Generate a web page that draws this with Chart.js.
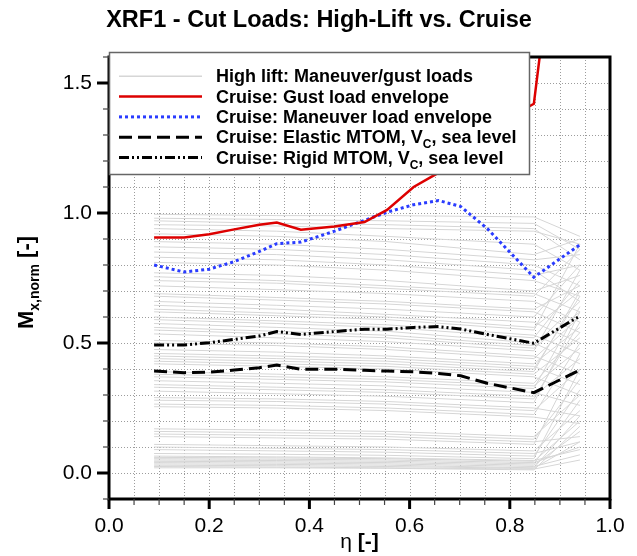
<!DOCTYPE html>
<html lang="en">
<head>
<meta charset="UTF-8">
<title>XRF1 - Cut Loads: High-Lift vs. Cruise</title>
<script src="https://cdn.jsdelivr.net/npm/chart.js@4.4.1/dist/chart.umd.min.js"></script>
<style>
  html, body { margin: 0; padding: 0; background: #ffffff; }
  #cutLoadsChart { display: block; }
</style>
</head>
<body>
<canvas id="cutLoadsChart" width="637" height="556"></canvas>
<script>
// ======================== 1. Data ========================
// span stations of the cruise load cases
const cruiseEta = [0.09, 0.15, 0.2, 0.25, 0.3, 0.335, 0.383, 0.45, 0.51, 0.555, 0.608, 0.658, 0.702, 0.755, 0.848, 0.94];
const gustEnvelope = [0.906, 0.906, 0.918, 0.937, 0.955, 0.963, 0.936, 0.948, 0.965, 1.012, 1.10, 1.155, 1.24, 1.32, 1.42, 2.85];
const maneuverEnvelope = [0.80, 0.773, 0.784, 0.813, 0.852, 0.882, 0.888, 0.93, 0.972, 1.003, 1.032, 1.048, 1.025, 0.94, 0.753, 0.878];
const elasticMtom = [0.392, 0.386, 0.388, 0.396, 0.405, 0.415, 0.399, 0.399, 0.395, 0.392, 0.389, 0.383, 0.374, 0.345, 0.309, 0.396];
const rigidMtom = [0.492, 0.492, 0.501, 0.514, 0.527, 0.544, 0.533, 0.544, 0.553, 0.553, 0.56, 0.563, 0.554, 0.533, 0.499, 0.604];

// high lift maneuver / gust cases (one row per load case)
const highLiftEta = [0.09, 0.335, 0.555, 0.848, 0.94];
const highLiftLoads = [
  [0.995, 0.99, 0.99, 0.985, 0.91],
  [0.98, 0.975, 0.97, 0.96, 0.86],
  [0.97, 0.96, 0.955, 0.94, 0.82],
  [0.955, 0.95, 0.94, 0.93, 0.88],
  [0.94, 0.93, 0.91, 0.88, 0.78],
  [0.92, 0.91, 0.89, 0.84, 0.90],
  [0.89, 0.88, 0.86, 0.82, 0.84],
  [0.87, 0.86, 0.84, 0.80, 0.72],
  [0.85, 0.84, 0.82, 0.78, 0.66],
  [0.83, 0.82, 0.80, 0.76, 0.80],
  [0.81, 0.80, 0.78, 0.74, 0.68],
  [0.77, 0.76, 0.74, 0.70, 0.76],
  [0.755, 0.74, 0.72, 0.69, 0.62],
  [0.74, 0.73, 0.71, 0.68, 0.86],
  [0.72, 0.705, 0.69, 0.66, 0.58],
  [0.69, 0.675, 0.66, 0.63, 0.72],
  [0.68, 0.665, 0.65, 0.62, 0.54],
  [0.66, 0.645, 0.63, 0.60, 0.80],
  [0.645, 0.63, 0.61, 0.58, 0.50],
  [0.63, 0.615, 0.60, 0.56, 0.70],
  [0.62, 0.605, 0.59, 0.55, 0.88],
  [0.60, 0.585, 0.57, 0.53, 0.46],
  [0.59, 0.575, 0.56, 0.52, 0.74],
  [0.575, 0.56, 0.545, 0.50, 0.42],
  [0.56, 0.545, 0.53, 0.49, 0.66],
  [0.55, 0.535, 0.52, 0.48, 0.62],
  [0.535, 0.52, 0.505, 0.47, 0.78],
  [0.51, 0.50, 0.485, 0.45, 0.38],
  [0.50, 0.49, 0.475, 0.44, 0.60],
  [0.475, 0.465, 0.45, 0.42, 0.56],
  [0.46, 0.45, 0.44, 0.41, 0.34],
  [0.45, 0.44, 0.43, 0.40, 0.68],
  [0.44, 0.43, 0.42, 0.39, 0.70],
  [0.43, 0.42, 0.41, 0.38, 0.52],
  [0.42, 0.41, 0.40, 0.37, 0.30],
  [0.39, 0.38, 0.37, 0.345, 0.54],
  [0.38, 0.37, 0.36, 0.335, 0.48],
  [0.37, 0.36, 0.35, 0.325, 0.64],
  [0.355, 0.345, 0.335, 0.31, 0.26],
  [0.34, 0.33, 0.32, 0.295, 0.44],
  [0.33, 0.32, 0.31, 0.285, 0.58],
  [0.315, 0.305, 0.295, 0.27, 0.62],
  [0.29, 0.285, 0.275, 0.25, 0.22],
  [0.28, 0.275, 0.265, 0.24, 0.40],
  [0.265, 0.26, 0.25, 0.225, 0.50],
  [0.255, 0.25, 0.24, 0.215, 0.19],
  [0.17, 0.165, 0.16, 0.14, 0.30],
  [0.16, 0.155, 0.15, 0.13, 0.36],
  [0.15, 0.145, 0.14, 0.12, 0.14],
  [0.14, 0.135, 0.13, 0.11, 0.46],
  [0.11, 0.105, 0.10, 0.085, 0.24],
  [0.10, 0.095, 0.09, 0.075, 0.12],
  [0.09, 0.085, 0.08, 0.065, 0.32],
  [0.075, 0.072, 0.068, 0.055, 0.40],
  [0.065, 0.062, 0.058, 0.048, 0.09],
  [0.06, 0.058, 0.055, 0.045, 0.20],
  [0.055, 0.053, 0.05, 0.04, 0.10],
  [0.05, 0.048, 0.045, 0.035, 0.28],
  [0.045, 0.043, 0.04, 0.03, 0.16],
  [0.04, 0.038, 0.035, 0.025, 0.07],
  [0.035, 0.033, 0.03, 0.02, 0.22],
  [0.03, 0.028, 0.025, 0.018, 0.12],
  [0.025, 0.023, 0.02, 0.015, 0.05],
  [0.02, 0.02, 0.018, 0.012, 0.18]
];

// axis tick labels
const xTickLabels = ['0.0', '0.2', '0.4', '0.6', '0.8', '1.0'];
const yTickLabels = ['0.0', '0.5', '1.0', '1.5'];

// legend entries (_X marks a subscript)
const legendLabels = [
  'High lift: Maneuver/gust loads',
  'Cruise: Gust load envelope',
  'Cruise: Maneuver load envelope',
  'Cruise: Elastic MTOM, V_C, sea level',
  'Cruise: Rigid MTOM, V_C, sea level'
];

// ======================== 2. Styles ========================
const FONT = '"Liberation Sans", Arial, Helvetica, sans-serif';
const seriesStyles = [
  { color: '#d6d6d6', width: 1.5, dash: [] },
  { color: '#dd0000', width: 2.5, dash: [] },
  { color: '#2a3cff', width: 3, dash: [3, 3] },
  { color: '#000000', width: 3, dash: [13, 6] },
  { color: '#000000', width: 3, dash: [10, 3, 2, 3, 2, 3] }
];

const toPoints = (xs, ys) => ys.map((v, i) => ({ x: xs[i], y: v }));

function lineDataset(label, xs, ys, style, order) {
  return {
    label: label,
    data: toPoints(xs, ys),
    borderColor: style.color,
    borderWidth: style.width,
    borderDash: style.dash,
    borderCapStyle: 'butt',
    pointRadius: 0,
    fill: false,
    tension: 0,
    order: order
  };
}

const datasets = [
  lineDataset(legendLabels[1], cruiseEta, gustEnvelope, seriesStyles[1], 0),
  lineDataset(legendLabels[2], cruiseEta, maneuverEnvelope, seriesStyles[2], 1),
  lineDataset(legendLabels[4], cruiseEta, rigidMtom, seriesStyles[4], 2),
  lineDataset(legendLabels[3], cruiseEta, elasticMtom, seriesStyles[3], 3)
];
highLiftLoads.forEach((row, i) => {
  datasets.push(lineDataset(legendLabels[0] + ' ' + (i + 1), highLiftEta, row,
    { color: '#d6d6d6', width: 1, dash: [] }, 10));
});

// ======================== 3. Text helpers ========================
// draws text with "_X" subscripts, returns the width
function drawRich(ctx, text, x, y, size, weight) {
  const parts = text.split(/_(\w)/);
  let cx = x;
  parts.forEach((p, i) => {
    const isSub = i % 2 === 1;
    const fs = isSub ? Math.round(size * 0.68) : size;
    ctx.font = weight + ' ' + fs + 'px ' + FONT;
    ctx.fillText(p, cx, isSub ? y + size * 0.28 : y);
    cx += ctx.measureText(p).width;
  });
  return cx - x;
}

// ======================== 4. Decoration plugin ========================
const cutLoadsDecor = {
  id: 'cutLoadsDecor',
  // dotted grid under the data
  beforeDatasetsDraw(chart) {
    const { ctx, chartArea: a, scales: { x, y } } = chart;
    ctx.save();
    ctx.strokeStyle = '#9c9c9c';
    ctx.lineWidth = 1;
    ctx.setLineDash([1, 2]);
    x.ticks.forEach(t => {
      const px = Math.round(x.getPixelForValue(t.value)) + 0.5;
      ctx.beginPath();
      ctx.moveTo(px, a.top);
      ctx.lineTo(px, a.bottom);
      ctx.stroke();
    });
    y.ticks.forEach(t => {
      const py = Math.round(y.getPixelForValue(t.value)) + 0.5;
      ctx.beginPath();
      ctx.moveTo(a.left, py);
      ctx.lineTo(a.right, py);
      ctx.stroke();
    });
    ctx.restore();
  },
  afterDraw(chart) {
    const { ctx, chartArea: a, scales: { x, y } } = chart;
    ctx.save();

    // plot frame
    ctx.strokeStyle = '#000';
    ctx.lineWidth = 3;
    ctx.setLineDash([]);
    ctx.strokeRect(a.left, a.top, a.right - a.left, a.bottom - a.top);

    // x ticks: major every 0.2, minor every 0.05
    x.ticks.forEach(t => {
      const px = x.getPixelForValue(t.value);
      const major = xTickLabels.some(l => Math.abs(Number(l) - t.value) < 1e-6);
      ctx.lineWidth = major ? 3 : 1.2;
      ctx.strokeStyle = major ? '#000' : '#444';
      ctx.beginPath();
      ctx.moveTo(px, a.bottom);
      ctx.lineTo(px, a.bottom + (major ? 10 : 6));
      ctx.stroke();
    });
    // y ticks: major every 0.5, minor every 0.1
    y.ticks.forEach(t => {
      const py = y.getPixelForValue(t.value);
      const major = yTickLabels.some(l => Math.abs(Number(l) - t.value) < 1e-6);
      ctx.lineWidth = major ? 3 : 1.2;
      ctx.strokeStyle = major ? '#000' : '#444';
      ctx.beginPath();
      ctx.moveTo(a.left, py);
      ctx.lineTo(a.left - (major ? 12 : 6), py);
      ctx.stroke();
    });

    // legend box
    const box = { left: 109.5, top: 52.5, right: 529.5, bottom: 174.5 };
    ctx.fillStyle = '#fff';
    ctx.fillRect(box.left, box.top, box.right - box.left, box.bottom - box.top);
    ctx.strokeStyle = '#666';
    ctx.lineWidth = 1.5;
    ctx.strokeRect(box.left, box.top, box.right - box.left, box.bottom - box.top);
    legendLabels.forEach((label, i) => {
      const base = 82.3 + i * 20.3;
      const st = seriesStyles[i];
      ctx.strokeStyle = st.color;
      ctx.lineWidth = st.width;
      ctx.setLineDash(st.dash);
      ctx.beginPath();
      ctx.moveTo(119, base - 6);
      ctx.lineTo(202, base - 6);
      ctx.stroke();
      ctx.setLineDash([]);
      ctx.fillStyle = '#000';
      ctx.textAlign = 'left';
      ctx.textBaseline = 'alphabetic';
      drawRich(ctx, label, 216, base, 18, 'bold');
    });

    // chart title
    ctx.fillStyle = '#000';
    ctx.textAlign = 'center';
    ctx.textBaseline = 'alphabetic';
    ctx.font = 'bold 23.5px ' + FONT;
    ctx.fillText('XRF1 - Cut Loads: High-Lift vs. Cruise', 319, 27);

    // x axis title: eta [-]
    ctx.textAlign = 'left';
    ctx.font = '21px ' + FONT;
    const wEta = ctx.measureText('\u03b7').width;
    ctx.font = 'bold 21px ' + FONT;
    const wUnit = ctx.measureText(' [-]').width;
    const sx = (a.left + a.right) / 2 - (wEta + wUnit) / 2;
    ctx.font = '21px ' + FONT;
    ctx.fillText('\u03b7', sx, 548);
    ctx.font = 'bold 21px ' + FONT;
    ctx.fillText(' [-]', sx + wEta, 548);

    // y axis title: M_x,norm [-] (rotated)
    ctx.save();
    ctx.translate(0, 282.5);
    ctx.rotate(-Math.PI / 2);
    ctx.font = 'bold 22px ' + FONT;
    const wM = ctx.measureText('M').width;
    const wTail = ctx.measureText(' [-]').width;
    ctx.font = 'bold 14px ' + FONT;
    const wSub = ctx.measureText('x,norm').width;
    let u = -(wM + wSub + wTail) / 2;
    ctx.font = 'bold 22px ' + FONT;
    ctx.fillText('M', u, 33);
    u += wM;
    ctx.font = 'bold 14px ' + FONT;
    ctx.fillText('x,norm', u, 39);
    u += wSub;
    ctx.font = 'bold 22px ' + FONT;
    ctx.fillText(' [-]', u, 33);
    ctx.restore();

    ctx.restore();
  }
};

// ======================== 5. Chart ========================
// Chart.js grid is hidden on the plot area (drawn dotted by the plugin); tick space is kept
const gridStyle = { drawOnChartArea: false, drawTicks: true, tickColor: 'rgba(0,0,0,0)' };

new Chart(document.getElementById('cutLoadsChart').getContext('2d'), {
  type: 'line',
  data: { datasets: datasets },
  options: {
    responsive: false,
    animation: false,
    devicePixelRatio: 1,
    layout: { padding: { left: 0, right: 27, top: 57, bottom: 0 } },
    plugins: { legend: { display: false }, tooltip: { enabled: false }, title: { display: false } },
    scales: {
      x: {
        type: 'linear',
        min: 0,
        max: 1,
        grid: Object.assign({}, gridStyle, { tickLength: 9 }),
        border: { display: false },
        ticks: {
          stepSize: 0.05,
          autoSkip: false,
          maxRotation: 0,
          maxTicksLimit: 100,
          padding: 6,
          color: '#000',
          font: { family: FONT, size: 21 },
          callback: v => xTickLabels.find(l => Math.abs(Number(l) - v) < 1e-6) || ''
        },
        afterFit: s => { s.height = 57; }
      },
      y: {
        type: 'linear',
        min: -0.1,
        max: 1.6,
        grid: Object.assign({}, gridStyle, { tickLength: 11 }),
        border: { display: false },
        ticks: {
          stepSize: 0.1,
          autoSkip: false,
          maxTicksLimit: 100,
          padding: 6,
          color: '#000',
          font: { family: FONT, size: 21 },
          callback: v => yTickLabels.find(l => Math.abs(Number(l) - v) < 1e-6) || ''
        },
        afterFit: s => { s.width = 109; }
      }
    }
  },
  plugins: [cutLoadsDecor]
});
</script>
</body>
</html>
